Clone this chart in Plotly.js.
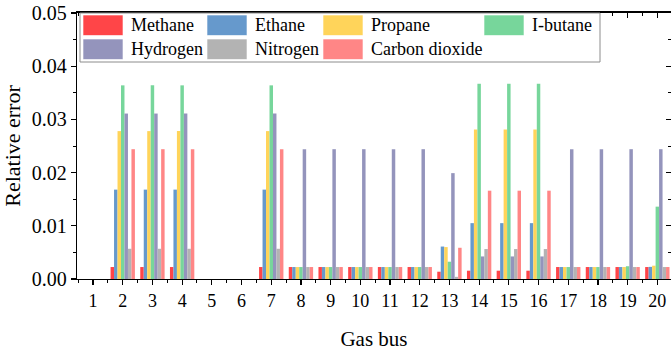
<!DOCTYPE html>
<html>
<head>
<meta charset="utf-8">
<script src="https://cdn.plot.ly/plotly-3.0.1.min.js"></script>
<style>html,body{margin:0;padding:0;background:#fff;}#chart{width:671px;height:351px;}</style>
</head>
<body>
<div id="chart"></div>
<script>
// ---- data ----
var buses = [1,2,3,4,5,6,7,8,9,10,11,12,13,14,15,16,17,18,19,20];
var seriesNames = ['Methane','Ethane','Propane','I-butane','Hydrogen','Nitrogen','Carbon dioxide'];
var seriesColors = ['#FF4548','#6699CC','#FFD45A','#77D69B','#9494BC','#B3B3B3','#FF8686'];

var methane  = [0,0.00225,0.00225,0.00225,0,0,0.00225,0.00225,0.00225,0.00225,0.00225,0.00225,0.00137,0.00156,0.00156,0.00156,0.00225,0.00225,0.00225,0.00225];
var ethane   = [0,0.0168,0.0168,0.0168,0,0,0.0168,0.00225,0.00225,0.00225,0.00225,0.00225,0.0061,0.0105,0.0105,0.0105,0.00225,0.00225,0.00225,0.00228];
var propane  = [0,0.0278,0.0278,0.0278,0,0,0.0278,0.00225,0.00225,0.00225,0.00225,0.00225,0.0060,0.0281,0.0281,0.0281,0.00225,0.00225,0.00225,0.0025];
var ibutane  = [0,0.0364,0.0364,0.0364,0,0,0.0364,0.00225,0.00225,0.00225,0.00225,0.00225,0.00325,0.0367,0.0367,0.0367,0.00225,0.00225,0.0024,0.0136];
var hydrogen = [0,0.0311,0.0311,0.0311,0,0,0.0311,0.0244,0.0244,0.0244,0.0244,0.0244,0.0199,0.00424,0.00424,0.00424,0.0244,0.0244,0.0244,0.0244];
var nitrogen = [0,0.00568,0.00568,0.00568,0,0,0.00568,0.00225,0.00225,0.00225,0.00225,0.00225,0.0004,0.00563,0.00563,0.00563,0.00225,0.00225,0.00225,0.00225];
var co2      = [0,0.0244,0.0244,0.0244,0,0,0.0244,0.00225,0.00225,0.00225,0.00225,0.00225,0.00587,0.0166,0.0166,0.0166,0.00225,0.00225,0.00225,0.00225];
var seriesValues = [methane, ethane, propane, ibutane, hydrogen, nitrogen, co2];

var yTicks = [0,0.01,0.02,0.03,0.04,0.05];
var xTitle = 'Gas bus';
var yTitle = 'Relative error';

// ---- figure ----
var FONT = '"Liberation Serif", "Times New Roman", serif';
var traces = seriesNames.map(function(n,i){
  return {type:'bar', name:n, x:buses, y:seriesValues[i],
    marker:{color:seriesColors[i], line:{width:0}}, showlegend:false, hoverinfo:'skip'};
});
// dummy trace to enable mirrored top/right axes
traces.push({type:'scatter', x:[null], y:[null], xaxis:'x2', yaxis:'y2', showlegend:false, hoverinfo:'skip', mode:'markers'});

var M = {l:77, r:0, t:13, b:72};
var W = 671 - M.l - M.r, H = 351 - M.t - M.b;
function px(xp){ return (xp - M.l)/W; }
function py(yp){ return (351 - M.b - yp)/H; }

var shapes = [], annotations = [];
// legend box
shapes.push({type:'rect', xref:'paper', yref:'paper', x0:px(80), x1:px(600), y0:py(62), y1:py(13),
  line:{color:'#8c8c8c', width:1}, fillcolor:'rgba(255,255,255,1)', layer:'above'});
var colX = [83, 207, 323, 484];
var rowY = [15, 39];
seriesNames.forEach(function(n,i){
  var c = i % 4, r = Math.floor(i/4);
  var x0 = colX[c], y0 = rowY[r];
  shapes.push({type:'rect', xref:'paper', yref:'paper', x0:px(x0), x1:px(x0+40), y0:py(y0+20.5), y1:py(y0),
    line:{color:'rgba(255,255,255,0.6)', width:1}, fillcolor:seriesColors[i], layer:'above'});
  annotations.push({xref:'paper', yref:'paper', x:px(x0+46), y:py(y0+10.5), xanchor:'left', yanchor:'middle',
    text:n, showarrow:false, font:{family:FONT, size:18, color:'#000'}});
});

var layout = {
  width:671, height:351, margin:M, paper_bgcolor:'#fff', plot_bgcolor:'#fff',
  barmode:'group', bargap:0.18, bargroupgap:0,
  font:{family:FONT, color:'#000'},
  xaxis:{range:[0.46,20.46], tickmode:'array', tickvals:buses, ticktext:buses.map(String),
    ticks:'outside', ticklen:5, tickwidth:1.2, tickcolor:'#000', showline:true, linewidth:1.3, linecolor:'#000',
    showgrid:false, zeroline:false, tickfont:{family:FONT, size:18, color:'#000'},
    minor:{dtick:0.5, tick0:0, ticks:'outside', ticklen:3, tickwidth:1, tickcolor:'#000', showgrid:false},
    title:{text:xTitle, font:{family:FONT, size:21, color:'#000'}, standoff:28}},
  yaxis:{range:[0,0.05], tickmode:'array', tickvals:yTicks, tickformat:'.2f',
    ticks:'outside', ticklen:5, tickwidth:1.2, tickcolor:'#000', showline:true, linewidth:1.3, linecolor:'#000',
    showgrid:false, zeroline:false, tickfont:{family:FONT, size:20, color:'#000'},
    minor:{dtick:0.005, ticks:'outside', ticklen:3, tickwidth:1, tickcolor:'#000', showgrid:false},
    title:{text:yTitle, font:{family:FONT, size:22, color:'#000'}, standoff:10}},
  xaxis2:{overlaying:'x', side:'top', range:[0.46,20.46], tickmode:'array', tickvals:buses, showticklabels:false,
    ticks:'inside', ticklen:5, tickwidth:1.2, tickcolor:'#000', showline:true, linewidth:2, linecolor:'#000',
    showgrid:false, zeroline:false,
    minor:{dtick:0.5, tick0:0, ticks:'inside', ticklen:3, tickwidth:1, tickcolor:'#000', showgrid:false}},
  yaxis2:{overlaying:'y', side:'right', range:[0,0.05], tickmode:'array', tickvals:yTicks, showticklabels:false,
    ticks:'inside', ticklen:5, tickwidth:1.2, tickcolor:'#000', showline:true, linewidth:1.3, linecolor:'#000',
    showgrid:false, zeroline:false,
    minor:{dtick:0.005, ticks:'inside', ticklen:3, tickwidth:1, tickcolor:'#000', showgrid:false}},
  shapes:shapes, annotations:annotations, showlegend:false
};
Plotly.newPlot('chart', traces, layout, {staticPlot:true, displayModeBar:false});
</script>
</body>
</html>
